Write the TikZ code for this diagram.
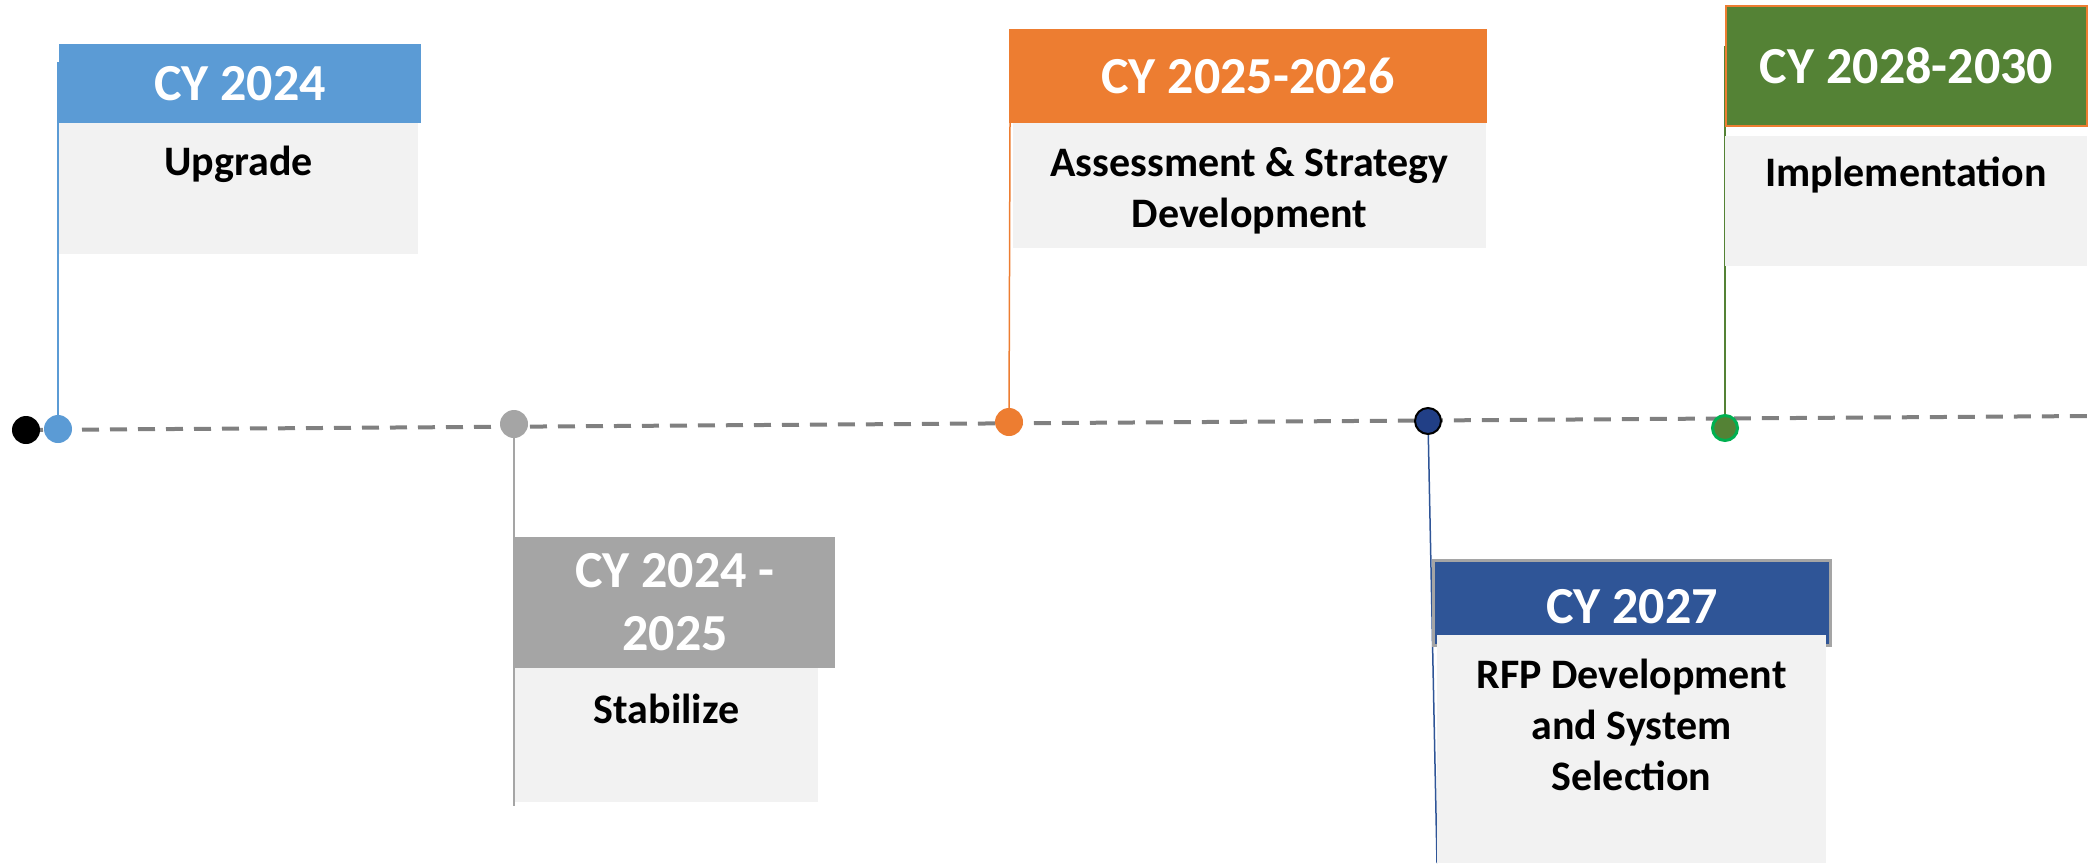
\documentclass[tikz,border=0pt]{standalone}
\usepackage{fontspec}
\setmainfont{Carlito}
\pgfdeclarelayer{background}
\pgfsetlayers{background,main}
\definecolor{cblue}{HTML}{5B9BD5}
\definecolor{cgray}{HTML}{A5A5A5}
\definecolor{corange}{HTML}{ED7D31}
\definecolor{cnavy}{HTML}{2F5597}
\definecolor{cnavydot}{HTML}{213F86}
\definecolor{cgreen}{HTML}{548235}
\definecolor{cbright}{HTML}{00B050}
\definecolor{cbody}{HTML}{F2F2F2}
\definecolor{cdash}{HTML}{808080}
\begin{document}
\begin{tikzpicture}[x=1pt,y=-1pt,
  box/.style={rectangle, inner sep=0pt, outer sep=0pt, anchor=north west, draw=none},
  bodybox/.style={box, fill=cbody},
  hdrtext/.style={inner sep=0pt, text=white, align=center, font=\bfseries\fontsize{52}{63}\selectfont},
  bodytext/.style={inner sep=0pt, text=black, align=center, anchor=base, font=\bfseries\fontsize{42}{51}\selectfont},
  dot/.style={circle, inner sep=0pt, outer sep=0pt, minimum size=28pt},
  conn/.style={line width=1.5pt},
  axis/.style={cdash, line width=4pt, dash pattern=on 17pt off 11pt}
]
\useasboundingbox (0,0) rectangle (2096,865);

% CY 2024
\node[box, fill=cblue, minimum width=362pt, minimum height=79pt] (h1) at (59,44) {};
\node[bodybox, minimum width=359pt, minimum height=131pt] (b1) at (59,123) {};
\node[hdrtext] (ht1) at (h1.center) {CY 2024};
\node[bodytext] (bt1) at ([yshift=-52pt]b1.north) {Upgrade};

% CY 2024 - 2025
\node[box, fill=cgray, minimum width=320pt, minimum height=131pt] (h2) at (515,537) {};
\node[bodybox, minimum width=303pt, minimum height=134pt] (b2) at (515,668) {};
\node[hdrtext] (ht2) at (h2.center) {CY 2024 -\\2025};
\node[bodytext] (bt2) at ([yshift=-55pt]b2.north) {Stabilize};

% CY 2025-2026
\node[box, fill=corange, minimum width=478pt, minimum height=94pt] (h3) at (1009,29) {};
\node[bodybox, minimum width=473pt, minimum height=125pt] (b3) at (1013,123) {};
\node[hdrtext] (ht3) at (h3.center) {CY 2025-2026};
\node[bodytext] (bt3) at ([yshift=-104pt]b3.north) {Assessment \& Strategy\\Development};

% CY 2027
\node[box, fill=cnavy, draw=cgray, line width=3pt, minimum width=397pt, minimum height=85pt] (h4) at (1433.5,560.5) {};
\node[bodybox, minimum width=389pt, minimum height=228pt] (b4) at (1437,635) {};
\node[hdrtext] (ht4) at ([yshift=-4pt]h4.center) {CY 2027};
\node[bodytext] (bt4) at ([yshift=-155pt]b4.north) {RFP Development\\and System\\Selection};

% CY 2028-2030
\node[box, fill=cgreen, draw=corange, line width=2pt, minimum width=361pt, minimum height=120pt] (h5) at (1726,6) {};
\node[bodybox, minimum width=362pt, minimum height=130pt] (b5) at (1725,136) {};
\node[hdrtext] (ht5) at (h5.center) {CY 2028-2030};
\node[bodytext] (bt5) at ([yshift=-50pt]b5.north) {Implementation};

% dots
\node[dot, fill=black] (d0) at (26,430) {};
\node[dot, fill=cblue] (d1) at (58,429) {};
\node[dot, fill=cgray] (d2) at (514,424) {};
\node[dot, fill=corange] (d3) at (1009,422) {};
\node[dot, fill=cnavydot, draw=black, line width=2pt, minimum size=26pt] (d4) at (1428,421) {};
\node[dot, fill=cgreen, draw=cbright, line width=3pt, minimum size=25pt] (d5) at (1725,428) {};

\coordinate (axend) at (2090,416);
\coordinate (c1) at (58,62);
\coordinate (c2) at (514,806);
\coordinate (c3) at (1010,123);
\coordinate (c4) at (1437,863);
\coordinate (c5) at (1725,46);

\begin{pgfonlayer}{background}
\draw[axis] (d0.center) -- (axend);
\draw[conn, cblue] (d1.center) -- (c1);
\draw[conn, cgray] (d2.center) -- (c2);
\draw[conn, corange] (d3.center) -- (c3);
\draw[conn, cnavy] (d4.center) -- (c4);
\draw[conn, cgreen] (d5.center) -- (c5);
\end{pgfonlayer}
\end{tikzpicture}
\end{document}
